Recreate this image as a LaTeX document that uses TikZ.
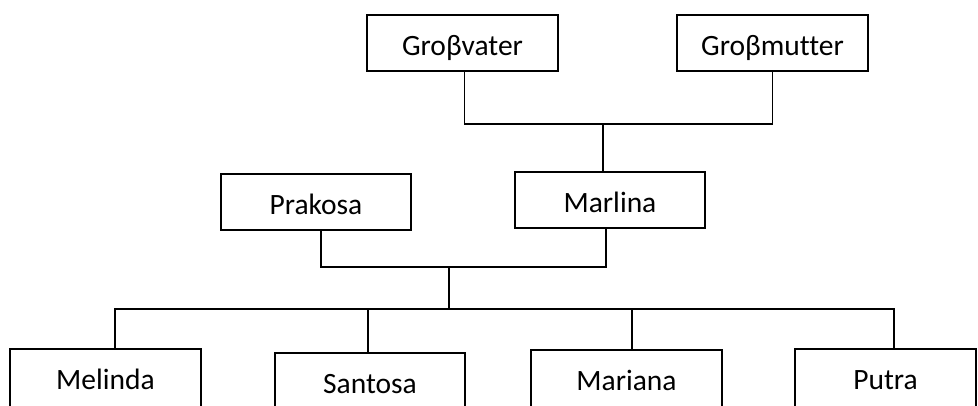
\documentclass[tikz,border=0pt]{standalone}
\usepackage{fontspec}
\setmainfont{Carlito}[Ligatures=NoCommon]
\usepackage{tikz}
\usetikzlibrary{positioning}
\tikzset{
  person/.style={rectangle, draw, line width=1.3pt, align=center,
                 minimum width=191pt, minimum height=56pt, inner sep=0pt,
                 text height=25pt, text depth=0pt, font=\fontsize{29.5}{32}\selectfont},
  child/.style={person, minimum height=64pt, text height=17pt},
  link/.style={line width=1.3pt},
}

\begin{document}
\begin{tikzpicture}[x=1pt, y=1pt]
  \useasboundingbox (0,0) rectangle (978,406);

  % ----- Grandparents -----
  \node[person] (gv) at (462.5,363) {Groβvater};
  \node[person] (gm) at (772.5,363) {Groβmutter};

  % ----- Parents -----
  \node[person, minimum width=190pt] (pk) at (316,204) {Prakosa};
  \node[person, minimum width=190pt] (ml) at (610,206) {Marlina};

  % ----- Children -----
  \node[child] (c1) at (105.5,25) {Melinda};
  \node[child, minimum width=190pt] (c2) at (370,21) {Santosa};
  \node[child] (c3) at (626.5,24) {Mariana};
  \node[child, minimum width=181pt] (c4) at (885.5,25) {Putra};

  % ----- Joints -----
  \coordinate (gjoin) at (603,282);
  \coordinate (pjoin) at (449,139);
  \coordinate (kjoin) at (449,97);
  \coordinate (c2top) at ([xshift=-2pt]c2.north);
  \coordinate (c3top) at ([xshift=5.5pt]c3.north);

  % ----- Lines -----
  \draw[link] ([xshift=2pt]gv.south) |- (gjoin) -| (gm.south);
  \draw[link] (gjoin) -- (gjoin |- ml.north);
  \draw[link] ([xshift=5pt]pk.south) |- (pjoin) -| ([xshift=-4pt]ml.south);
  \draw[link] (pjoin) -- (kjoin);
  \draw[link] ([xshift=9.5pt]c1.north) |- (kjoin) -| ([xshift=8.5pt]c4.north);
  \draw[link] (kjoin -| c2top) -- (c2top);
  \draw[link] (kjoin -| c3top) -- (c3top);
\end{tikzpicture}
\end{document}
